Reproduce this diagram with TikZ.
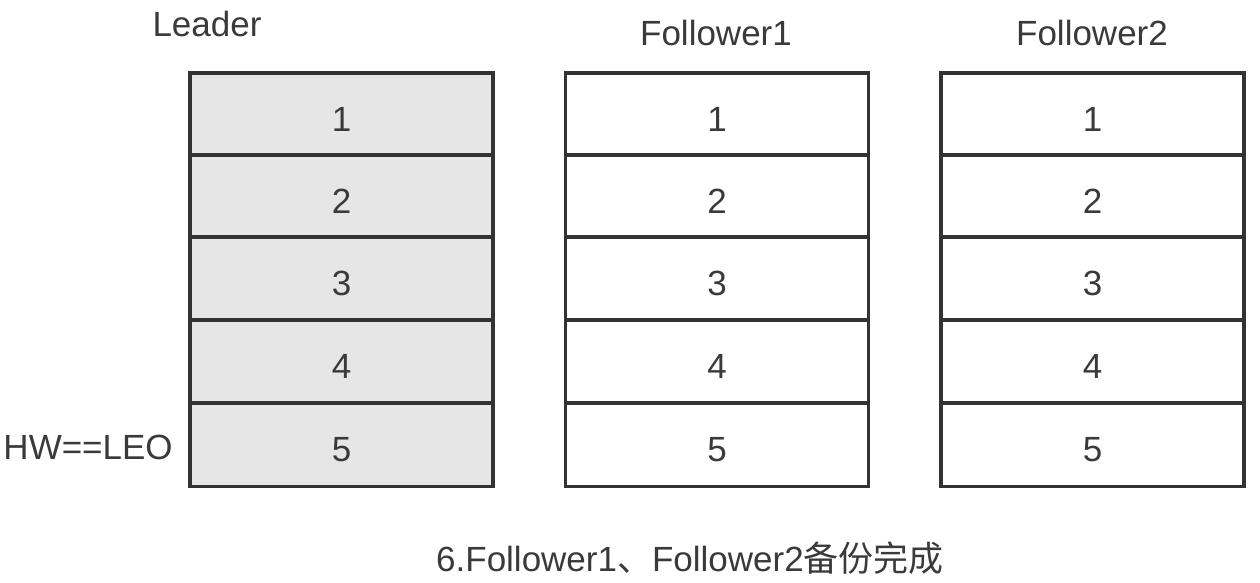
\documentclass[tikz,border=0pt]{standalone}
\usepackage{fontspec}
\setmainfont{Liberation Sans}
\newfontfamily\cjk{Noto Sans CJK SC}
\usetikzlibrary{positioning}
\definecolor{lineColor}{HTML}{333333}
\definecolor{textColor}{HTML}{3A3A3A}
\definecolor{leaderFill}{HTML}{E6E6E6}

\begin{document}
\begin{tikzpicture}[x=1pt,y=-1pt]

          \tikzstyle{cell} = [draw=lineColor, line width=3.5pt, minimum width=303pt, minimum height=83pt, inner sep=0pt];
          \tikzstyle{leaderCell} = [cell, fill=leaderFill];
          \tikzstyle{followerCell} = [cell, fill=white];
          \tikzstyle{num} = [text=textColor, font=\fontsize{35}{40}\selectfont, yshift=-5pt];
          \tikzstyle{title} = [text=textColor, font=\fontsize{35}{40}\selectfont];

          \useasboundingbox (0,0) rectangle (1260,583);

          % log columns
          \foreach \i/\y in {1/114.5, 2/196.5, 3/278.5, 4/361.5, 5/445} {
            \node[leaderCell, label={[num]center:\i}] (L\i) at (341.5,\y) {};
            \node[followerCell, label={[num]center:\i}] (FA\i) at (717,\y) {};
            \node[followerCell, label={[num]center:\i}] (FB\i) at (1092.5,\y) {};
          }

          \node[title] (leader) at (207,24) {Leader};
          \node[title] (followerA) at (716,33) {Follower1};
          \node[title] (followerB) at (1092,33) {Follower2};

          \node[title, left=12pt of L5.west, yshift=-2pt] (hw) {HW==LEO};

          \node[title] (caption) at (690,558) {6.Follower1{\cjk 、}Follower2{\cjk 备份完成}};
        \end{tikzpicture}
\end{document}
